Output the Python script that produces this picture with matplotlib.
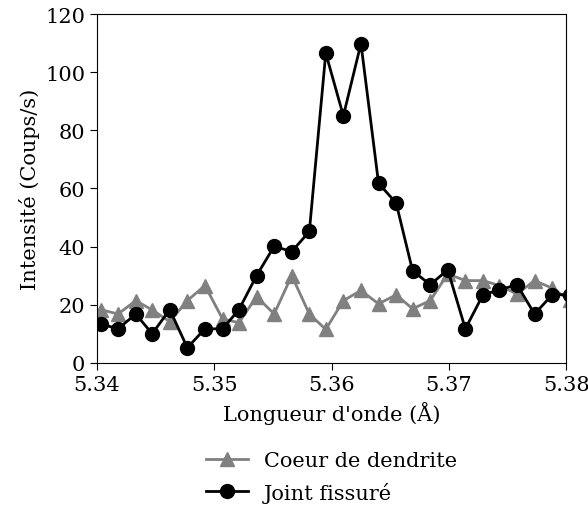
import matplotlib.pyplot as plt

plt.rcParams['font.family'] = 'DejaVu Serif'

# longueurs d'onde (Angstrom)
longueur = [5.3403, 5.3418, 5.3433, 5.3447, 5.3462, 5.3477, 5.3492, 5.3507,
            5.3521, 5.3536, 5.3551, 5.3566, 5.3581, 5.3595, 5.3610, 5.3625,
            5.3640, 5.3655, 5.3669, 5.3684, 5.3699, 5.3714, 5.3729, 5.3743,
            5.3758, 5.3773, 5.3788, 5.3803]

coeur = [18.3, 16.8, 21.4, 18.2, 14.2, 21.4, 26.6, 15.1, 13.8, 22.8,
         16.8, 30.0, 16.8, 11.5, 21.4, 24.9, 20.3, 23.4, 18.6, 21.4,
         30.6, 28.3, 28.3, 26.6, 23.7, 28.3, 25.7, 21.5]

joint = [13.4, 11.7, 16.8, 10.0, 18.3, 5.2, 11.7, 11.7, 18.3, 30.0,
         40.1, 38.3, 45.2, 106.6, 85.0, 109.9, 61.8, 55.0, 31.7, 26.9,
         32.0, 11.7, 23.4, 25.1, 26.9, 16.8, 23.4, 23.5]

fig = plt.figure(figsize=(5.88, 5.06), dpi=100)
ax = fig.add_axes([0.165, 0.281, 0.798, 0.689])

ax.plot(longueur, coeur, color='gray', marker='^', markersize=10, linewidth=2,
        label='Coeur de dendrite')
ax.plot(longueur, joint, color='black', marker='o', markersize=10, linewidth=2,
        label='Joint fissuré')

ax.set_xlim(5.34, 5.38)
ax.set_ylim(0, 120)
ax.set_xticks([5.34, 5.35, 5.36, 5.37, 5.38])
ax.set_yticks([0, 20, 40, 60, 80, 100, 120])
ax.tick_params(labelsize=15, length=5)
ax.set_xlabel("Longueur d'onde (Å)", fontsize=15, labelpad=5)
ax.set_ylabel('Intensité (Coups/s)', fontsize=15)

ax.legend(loc='upper center', bbox_to_anchor=(0.5, -0.2), frameon=False,
          fontsize=15, handlelength=2, labelspacing=0.55, ncol=1)

plt.savefig('out.png', dpi=100)
